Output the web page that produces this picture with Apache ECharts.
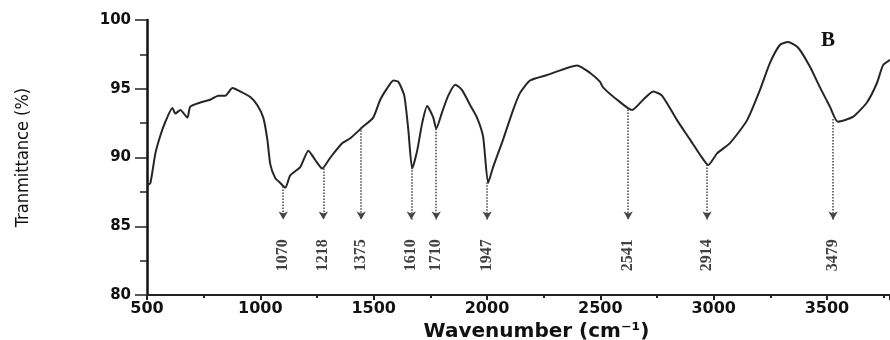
<!DOCTYPE html>
<html><head><meta charset="utf-8">
<script src="https://cdn.jsdelivr.net/npm/echarts@6/dist/echarts.min.js"></script>
<style>html,body{margin:0;padding:0;background:#fff}#c{width:890px;height:340px}</style>
</head><body><div id="c"></div>
<script>
const wavenumber = [502,515,537,559,581,612,625,647,678,691,735,779,815,845,877,912,956,987,1013,1031,1044,1066,1088,1110,1132,1176,1212,1243,1273,1309,1362,1397,1450,1498,1529,1560,1587,1609,1635,1653,1670,1692,1714,1736,1763,1776,1802,1829,1860,1890,1926,1956,1983,2005,2027,2071,2115,2146,2190,2265,2398,2455,2499,2512,2574,2640,2689,2733,2772,2839,2896,2940,2976,3015,3072,3147,3204,3249,3293,3328,3372,3425,3469,3513,3548,3614,3676,3720,3747,3778];
const transmittance = [88.0,88.15,90.3,91.6,92.6,93.6,93.2,93.45,92.9,93.7,94.0,94.2,94.5,94.5,95.05,94.8,94.4,93.8,92.9,91.3,89.5,88.5,88.15,87.8,88.7,89.3,90.5,89.8,89.2,90.0,91.05,91.4,92.2,92.9,94.2,95.05,95.6,95.5,94.5,92.0,89.2,90.5,92.5,93.75,92.9,92.1,93.3,94.5,95.3,94.9,93.8,92.9,91.5,88.15,89.3,91.3,93.45,94.7,95.6,96.0,96.7,96.15,95.5,95.1,94.2,93.45,94.2,94.8,94.5,92.7,91.3,90.2,89.45,90.3,91.05,92.7,94.9,96.9,98.2,98.4,98.0,96.6,95.1,93.7,92.6,92.95,94.0,95.4,96.7,97.1];
const peakLabels = ['1070','1218','1375','1610','1710','1947','2541','2914','3479'];
const peakX = [1101,1278,1445,1666,1776,2001,2623,2971,3527];
const peakY = [87.9,89.2,92.2,89.3,92.1,88.2,93.5,89.5,92.8];
const xTickLabels = ['500','1000','1500','2000','2500','3000','3500'];
const yTickLabels = ['80','85','90','95','100'];

const ARROW_END = 85.5, LABEL_Y = 82.9;

const chart = echarts.init(document.getElementById('c'));
const lineData = wavenumber.map((x, i) => [x, transmittance[i]]);
const markData = peakX.map((x, i) => [{coord: [x, peakY[i]]}, {coord: [x, ARROW_END]}]);
const labelData = peakX.map((x, i) => ({value: [x, LABEL_Y], name: peakLabels[i]}));

chart.setOption({
  animation: false,
  backgroundColor: '#fff',
  grid: {left: 147, right: 0, top: 20, bottom: 45, containLabel: false, outerBoundsMode: 'none'},
  xAxis: {
    type: 'value', min: 500, max: 3778, interval: 500,
    name: 'Wavenumber (cm⁻¹)', nameLocation: 'middle', nameGap: 24,
    nameTextStyle: {fontFamily: 'DejaVu Sans', fontWeight: 'bold', fontSize: 20, color: '#111', padding: [0, 0, 0, 36]},
    axisLine: {lineStyle: {color: '#222', width: 2}},
    axisTick: {length: 5, lineStyle: {color: '#222', width: 2}},
    minorTick: {show: true, splitNumber: 2, length: 3, lineStyle: {color: '#222', width: 2}},
    splitLine: {show: false},
    axisLabel: {
      showMaxLabel: false, margin: 6,
      fontFamily: 'DejaVu Sans', fontWeight: 'bold', fontSize: 16, color: '#111',
      formatter: v => { const i = xTickLabels.indexOf(String(v)); return i >= 0 ? xTickLabels[i] : ''; }
    }
  },
  yAxis: {
    type: 'value', min: 80, max: 100, interval: 5,
    name: 'Tranmittance (%)', nameLocation: 'middle', nameRotate: 90, nameGap: 115,
    nameTextStyle: {fontFamily: "'Liberation Sans Narrow', 'DejaVu Sans Condensed', sans-serif", fontSize: 18, color: '#111', padding: [0, 0, 0, 0]},
    axisLine: {show: true, lineStyle: {color: '#111', width: 2.5}},
    axisTick: {show: true, length: 12, lineStyle: {color: '#222', width: 1.5}},
    minorTick: {show: true, splitNumber: 2, length: 7, lineStyle: {color: '#222', width: 1.5}},
    splitLine: {show: false},
    axisLabel: {
      margin: 16, fontFamily: 'DejaVu Sans', fontWeight: 'bold', fontSize: 15, color: '#111',
      formatter: v => { const i = yTickLabels.indexOf(String(v)); return i >= 0 ? yTickLabels[i] : ''; }
    }
  },
  graphic: [{
    type: 'text', left: 821, top: 30,
    style: {text: 'B', font: 'bold 21px "Liberation Serif", serif', fill: '#111'}
  }],
  series: [{
    type: 'line', data: lineData, showSymbol: false, smooth: 0.2,
    lineStyle: {color: '#262626', width: 2},
    markLine: {
      silent: true, symbol: ['none', 'arrow'], symbolSize: [7, 8],
      label: {show: false},
      lineStyle: {type: 'dotted', color: '#444', width: 1.5},
      data: markData
    }
  }, {
    type: 'scatter', data: labelData, symbolSize: 0, silent: true,
    label: {
      show: true, position: 'inside', rotate: 90, align: 'center', verticalAlign: 'middle',
      formatter: p => p.name,
      fontFamily: "'Liberation Serif', serif", fontWeight: 'bold', fontSize: 16, color: '#111'
    }
  }]
});
</script></body></html>
